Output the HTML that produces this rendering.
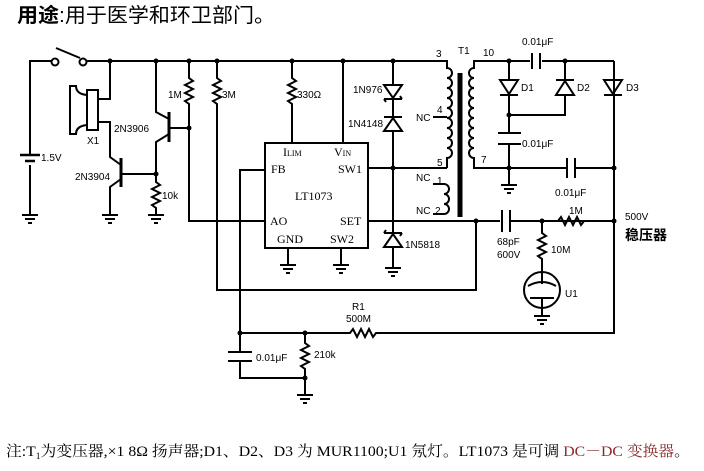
<!DOCTYPE html>
<html><head><meta charset="utf-8"><style>
body{margin:0;background:#fff;width:704px;height:471px;overflow:hidden}
svg{position:absolute;left:0;top:0}
text{font-family:"Liberation Sans",Arial,sans-serif;font-size:10px;fill:#000}
.s{font-family:"Liberation Serif",serif;font-size:12px}
</style></head><body>
<svg width="704" height="471" viewBox="0 0 704 471" xmlns="http://www.w3.org/2000/svg">
<g stroke="#000" stroke-width="2" fill="none">
<path d="M30 215V165M30 155V61H51M87 61H447"/>
<circle cx="55" cy="62" r="3.5" fill="#fff"/><circle cx="83" cy="62" r="3.5" fill="#fff"/>
<path d="M56 48L80 58"/>
<path d="M20 155H40M25 161H35" stroke-width="2.5"/>
<rect x="87" y="90" width="11" height="40"/>
<path d="M87 95Q76 94 76 86H70V134H76Q76 126 87 125"/>
<path d="M110 61V99H98M98 122H110V157L121 165M121 179L110 187V215"/>
<path d="M121 158V187" stroke-width="3"/>
<path d="M121 174H156"/>
<path d="M156 61V112L169 119M169 134L156 142V174"/>
<path d="M169 112V142" stroke-width="3"/>
<path d="M169 128H189"/>
<path d="M156 174V182l4 3-8 4 8 4-8 4 8 4-8 4 4 3V215"/>
<path d="M189 61V78l4 3-8 4 8 4-8 4 8 4-8 4 4 3V221H265"/>
<path d="M217 61V78l4 3-8 4 8 4-8 4 8 4-8 4 4 3V290H476V221"/>
<path d="M292 61V78l4 3-8 4 8 4-8 4 8 4-8 4 4 3V143"/>
<path d="M343 61V143"/>
<rect x="265" y="143" width="103" height="105"/>
<path d="M265 170H240V333"/>
<path d="M288 248V265M341 248V265"/>
<path d="M368 168H447M368 221H500M510 221H614"/>
<path d="M393 61V268"/>
<path d="M384 85H402L393 98Z M384 99H402M386 102L384 99M400 96L402 99" fill="#fff"/>
<path d="M384 131H402L393 118Z M384 117H402" fill="#fff"/>
<path d="M384 247H402L393 234Z M384 233H402M386 230L384 233M400 236L402 233" fill="#fff"/>
<path d="M435 61H447V68 a4 4 0 0 1 0 10 a4 4 0 0 1 0 10 a4 4 0 0 1 0 10 a4 4 0 0 1 0 10 a4 4 0 0 1 0 10 a4 4 0 0 1 0 10 a4 4 0 0 1 0 10 a4 4 0 0 1 0 10 a4 4 0 0 1 0 10 V168"/>
<path d="M433 117H447"/>
<path d="M433 184H444 a4 4 0 0 1 0 10 a4 4 0 0 1 0 10 a4 4 0 0 1 0 10 H433"/>
<path d="M460 73V217" stroke-width="5"/>
<path d="M614 61H474V68 a4 4 0 0 0 0 10 a4 4 0 0 0 0 10 a4 4 0 0 0 0 10 a4 4 0 0 0 0 10 a4 4 0 0 0 0 10 a4 4 0 0 0 0 10 a4 4 0 0 0 0 10 a4 4 0 0 0 0 10 a4 4 0 0 0 0 10 V168H566M576 168H614"/>
<rect x="530" y="55" width="12" height="12" fill="#fff" stroke="none"/>
<path d="M532 53V69M540 53V69"/>
<rect x="566" y="160" width="10" height="16" fill="#fff" stroke="none"/>
<path d="M567 158V178M575 158V178"/>
<path d="M509 61V134M509 144V185M509 115H565V61"/>
<path d="M498 133H521M498 144H521"/>
<path d="M500 80H518L509 94Z M500 95H518" fill="#fff"/>
<path d="M556 95H574L565 81Z M556 80H574" fill="#fff"/>
<path d="M604 80H622L613 94Z M604 95H622" fill="#fff"/>
<path d="M614 61V333H377"/>
<path d="M502 210V232M510 210V232"/>
<path d="M558 221l3-4 4 8 4-8 4 8 4-8 4 8 3-4"/>
<path d="M542 221V233l4 3-8 4 8 4-8 4 8 4-8 4 4 3V272"/>
<circle cx="542" cy="290" r="18" fill="#fff"/>
<path d="M542 272V284M528 286Q542 278 556 286M530 298H554M542 298V316"/>
<path d="M240 333H350l3-4 4 8 4-8 4 8 4-8 4 8 3-4H380"/>
<path d="M240 333V352M240 361V378H305"/>
<path d="M228 352H252M228 361H252"/>
<path d="M305 333V343l4 3-8 4 8 4-8 4 8 4-8 4 4 3V395"/>
</g>
<g fill="#000">
<circle cx="110" cy="61" r="2.5"/><circle cx="156" cy="61" r="2.5"/><circle cx="189" cy="61" r="2.5"/><circle cx="217" cy="61" r="2.5"/><circle cx="292" cy="61" r="2.5"/><circle cx="343" cy="61" r="2.5"/><circle cx="393" cy="61" r="2.5"/>
<circle cx="189" cy="128" r="2.5"/><circle cx="156" cy="174" r="2.5"/><circle cx="393" cy="168" r="2.5"/><circle cx="476" cy="221" r="2.5"/>
<circle cx="509" cy="61" r="2.5"/><circle cx="565" cy="61" r="2.5"/><circle cx="509" cy="115" r="2.5"/><circle cx="509" cy="168" r="2.5"/><circle cx="614" cy="168" r="2.5"/><circle cx="614" cy="221" r="2.5"/><circle cx="542" cy="221" r="2.5"/>
<circle cx="240" cy="333" r="2.5"/><circle cx="305" cy="333" r="2.5"/><circle cx="305" cy="378" r="2.5"/>
</g>
<g stroke="#000" stroke-width="2">
<path d="M22 215H38M25 219H35M28 223H32"/>
<path d="M102 215H118M105 219H115M108 223H112"/>
<path d="M148 215H164M151 219H161M154 223H158"/>
<path d="M280 265H296M283 269H293M286 273H290"/>
<path d="M333 265H349M336 269H346M339 273H343"/>
<path d="M385 268H401M388 272H398M391 276H395"/>
<path d="M501 185H517M504 189H514M507 193H511"/>
<path d="M534 316H550M537 320H547M540 324H544"/>
<path d="M297 395H313M300 399H310M303 403H307"/>
</g>
<text x="17" y="22" textLength="258" lengthAdjust="spacingAndGlyphs" style="font-family:'Liberation Sans','Noto Sans CJK SC',sans-serif;font-size:20px"><tspan font-weight="bold">用途</tspan>:用于医学和环卫部门。</text>
<text x="41" y="161">1.5V</text>
<text x="87" y="144">X1</text>
<text x="114" y="132">2N3906</text>
<text x="75" y="180">2N3904</text>
<text x="162" y="199">10k</text>
<text x="168" y="98">1M</text>
<text x="222" y="98">3M</text>
<text x="297" y="98">330Ω</text>
<text class="s" x="283" y="156" font-size="10">I<tspan font-size="8">LIM</tspan></text>
<text class="s" x="334" y="156" font-size="10">V<tspan font-size="8">IN</tspan></text>
<text class="s" x="271" y="173">FB</text>
<text class="s" x="338" y="173">SW1</text>
<text class="s" x="295" y="200">LT1073</text>
<text class="s" x="270" y="225">AO</text>
<text class="s" x="340" y="225">SET</text>
<text class="s" x="277" y="243">GND</text>
<text class="s" x="330" y="243">SW2</text>
<text x="353" y="93">1N976</text>
<text x="348" y="127">1N4148</text>
<text x="405" y="248">1N5818</text>
<text x="436" y="57">3</text><text x="458" y="54">T1</text><text x="483" y="56">10</text>
<text x="416" y="121">NC</text><text x="437" y="113">4</text>
<text x="437" y="166">5</text><text x="481" y="163">7</text>
<text x="416" y="181">NC</text><text x="437" y="184">1</text>
<text x="416" y="214">NC</text><text x="435" y="214">2</text>
<text x="522" y="45">0.01μF</text>
<text x="522" y="147">0.01μF</text>
<text x="555" y="196">0.01μF</text>
<text x="521" y="91">D1</text><text x="577" y="91">D2</text><text x="626" y="91">D3</text>
<text x="569" y="214">1M</text>
<text x="497" y="245">68pF</text><text x="497" y="258">600V</text>
<text x="551" y="253">10M</text>
<text x="565" y="297">U1</text>
<text x="625" y="220">500V</text>
<text x="625" y="240" style="font-family:'Liberation Sans','Noto Sans CJK SC',sans-serif;font-size:14px;font-weight:bold">稳压器</text>
<text x="352" y="310">R1</text><text x="346" y="322">500M</text>
<text x="256" y="361">0.01μF</text>
<text x="314" y="358">210k</text>
<text x="6" y="456" textLength="684" lengthAdjust="spacingAndGlyphs" style="font-family:'Liberation Serif','Noto Serif CJK SC',serif;font-size:15px">注:T<tspan font-size="9" dy="3">1</tspan><tspan dy="-3">为变压器,×1 8Ω 扬声器;D1、D2、D3 为 MUR1100;U1 氖灯。LT1073 是可调 </tspan><tspan fill="#8b2a2a">DC－DC 变换器</tspan>。</text>
</svg>
</body></html>
